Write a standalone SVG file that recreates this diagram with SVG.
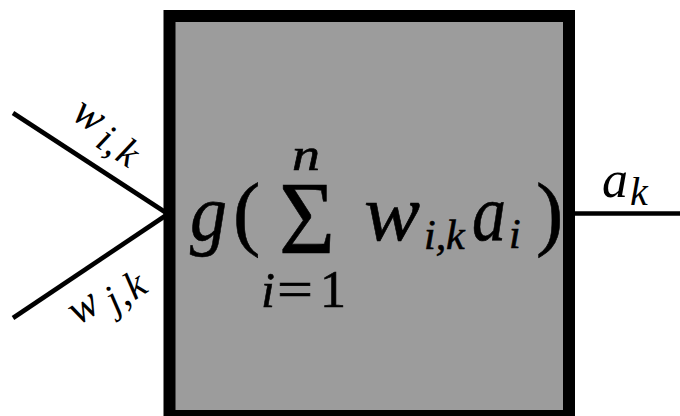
<svg xmlns="http://www.w3.org/2000/svg" width="680" height="416" viewBox="0 0 680 416">
<style>
text{font-family:"Liberation Serif","Times New Roman",serif;fill:#000}
.it{font-style:italic}
.heavy{stroke:#000;stroke-width:0.6}
.edge{stroke:#000;stroke-width:4.6;fill:none}
</style>
<rect width="680" height="416" fill="#fff"/>
<g id="connectors">
<path class="edge" d="M13,113 L168,214"/>
<path class="edge" d="M13,318 L168,214"/>
<path class="edge" d="M575,213.5 H680" stroke-width="5"/>
</g>
<g id="neuron">
<rect x="169.5" y="16" width="399.5" height="400" fill="#9c9c9c" stroke="#000" stroke-width="12"/>
<text class="it heavy" x="190" y="240" font-size="80" textLength="37" lengthAdjust="spacingAndGlyphs">g</text>
<text class="heavy" x="233" y="240" font-size="82">(</text>
<text class="heavy" x="279" y="253" font-size="104" textLength="56" lengthAdjust="spacingAndGlyphs">Σ</text>
<text class="it heavy" x="292" y="170" font-size="46" textLength="28" lengthAdjust="spacingAndGlyphs">n</text>
<text class="it heavy" x="261" y="307" font-size="50">i</text>
<text class="heavy" x="277" y="307" font-size="52" textLength="36" lengthAdjust="spacingAndGlyphs">=</text>
<text class="heavy" x="320" y="307" font-size="52">1</text>
<text class="it heavy" x="364" y="240" font-size="80" textLength="56" lengthAdjust="spacingAndGlyphs">w</text>
<text class="it heavy" x="424" y="249" font-size="42">i,<tspan x="446">k</tspan></text>
<text class="it heavy" x="472" y="240" font-size="80" textLength="34" lengthAdjust="spacingAndGlyphs">a</text>
<text class="it heavy" x="509" y="248" font-size="42">i</text>
<text class="heavy" x="536" y="240" font-size="82">)</text>
</g>
<g id="label-wik" transform="translate(70,118) rotate(33.4)">
<text class="it" x="0" y="0" font-size="44">w<tspan font-size="40" x="35" dy="10">i,</tspan><tspan font-size="40" x="59">k</tspan></text>
</g>
<g id="label-wjk" transform="translate(78,326) rotate(-33.4)">
<text class="it" x="0" y="0" font-size="44">w<tspan font-size="40" x="38" dy="10">j,</tspan><tspan font-size="40" x="61">k</tspan></text>
</g>
<g id="label-ak">
<text class="it" x="602" y="197" font-size="52">a<tspan font-size="40" x="630" dy="8">k</tspan></text>
</g>
</svg>
